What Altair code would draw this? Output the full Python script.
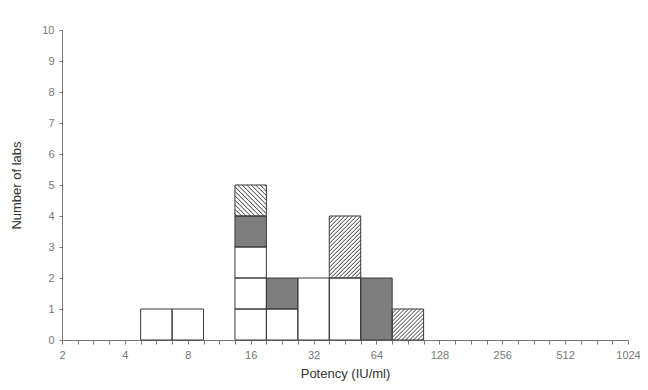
import altair as alt
import pandas as pd

# ---- data ----
# bin centre in log2(potency) units, pattern of the box, number of labs in the box
bin_log2 = [2.5, 3.0, 4.0, 4.0, 4.0, 4.0, 4.0, 4.5, 4.5, 5.0, 5.5, 5.5, 6.0, 6.5]
pattern  = ["open", "open", "open", "open", "open", "dots", "back",
            "open", "dots", "open", "open", "fwd", "dots", "fwd"]
labs     = [1, 1, 1, 1, 1, 1, 1, 1, 1, 2, 2, 2, 2, 1]

x_major = [1, 2, 3, 4, 5, 6, 7, 8, 9, 10]          # log2 of 2 ... 1024
y_ticks = [0, 1, 2, 3, 4, 5, 6, 7, 8, 9, 10]

# ---- layout ----
W, H = 566, 310
X_DOM = [1, 10]
Y_DOM = [0, 10]
PX_X = W / (X_DOM[1] - X_DOM[0])
PX_Y = H / (Y_DOM[1] - Y_DOM[0])
HALF = 0.25

# boxes (stacked within bins)
rows = []
stack = {}
for b, p, n in zip(bin_log2, pattern, labs):
    base = stack.get(b, 0)
    rows.append(dict(x0=b - HALF, x1=b + HALF, y0=base, y1=base + n, pattern=p))
    stack[b] = base + n
boxes = pd.DataFrame(rows)

# hatch lines for hatched boxes (45 degrees on screen)
def hatch(r, kind, step):
    u0, u1 = r.x0 * PX_X, r.x1 * PX_X
    v0, v1 = r.y0 * PX_Y, r.y1 * PX_Y
    out = []
    if kind == "fwd":   # v - u = c
        c = v0 - u1 + step / 2
        while c < v1 - u0:
            us = max(u0, v0 - c); ue = min(u1, v1 - c)
            out.append(dict(x0=us / PX_X, x1=ue / PX_X, y0=(us + c) / PX_Y, y1=(ue + c) / PX_Y))
            c += step
    else:               # v + u = c
        c = u0 + v0 + step / 2
        while c < u1 + v1:
            us = max(u0, c - v1); ue = min(u1, c - v0)
            out.append(dict(x0=us / PX_X, x1=ue / PX_X, y0=(c - us) / PX_Y, y1=(c - ue) / PX_Y))
            c += step
    return out

hrows = []
for r in boxes.itertuples():
    if r.pattern == "fwd":
        hrows += hatch(r, "fwd", 4.0)
    elif r.pattern == "back":
        hrows += hatch(r, "back", 4.5)
hatches = pd.DataFrame(hrows)

x_ticks = [X_DOM[0] + i * 0.25 for i in range(int((X_DOM[1] - X_DOM[0]) / 0.25) + 1)]

FONT = "Liberation Sans"
xscale = alt.Scale(domain=X_DOM, nice=False, zero=False)
yscale = alt.Scale(domain=Y_DOM, nice=False)

xaxis = alt.Axis(
    values=x_ticks,
    labelExpr="datum.value % 1 == 0 ? '' + pow(2, datum.value) : ''",
    title="Potency  (IU/ml)",
    tickSize=4, labelPadding=5, labelFlush=False, labelOverlap=False,
    titlePadding=7,
)
yaxis = alt.Axis(values=y_ticks, title="Number of labs", tickSize=3,
                 labelPadding=5, titlePadding=18, labelOverlap=False)

X = lambda: alt.X("x0:Q", scale=xscale, axis=xaxis)
Y = lambda: alt.Y("y0:Q", scale=yscale, axis=yaxis)

fill_scale = alt.Scale(domain=["open", "dots", "back", "fwd"],
                       range=["#ffffff", "#7e7e7e", "#ffffff", "#ffffff"])

base = alt.Chart(boxes)
fills = base.mark_rect(strokeWidth=0).encode(
    x=X(), x2="x1:Q", y=Y(), y2="y1:Q",
    fill=alt.Fill("pattern:N", scale=fill_scale, legend=None),
)
lines = alt.Chart(hatches).mark_rule(color="#222222", strokeWidth=0.9).encode(
    x=X(), x2="x1:Q", y=Y(), y2="y1:Q",
)
outlines = base.mark_rect(fillOpacity=0, stroke="#3a3a3a", strokeWidth=1).encode(
    x=X(), x2="x1:Q", y=Y(), y2="y1:Q",
)

chart = alt.layer(fills, lines, outlines).properties(
    width=W, height=H,
    autosize=alt.AutoSizeParams(type="none"),
    padding={"left": 54, "top": 22, "right": 12, "bottom": 42},
).configure_view(stroke=None).configure_axis(
    grid=False,
    domainColor="#777777",
    tickColor="#777777",
    labelColor="#777777",
    labelFont=FONT, labelFontSize=11,
    titleFont=FONT, titleFontSize=13, titleFontWeight="normal", titleColor="#333333",
)

chart.save("out.html", embed_options={"renderer": "svg", "actions": False})
